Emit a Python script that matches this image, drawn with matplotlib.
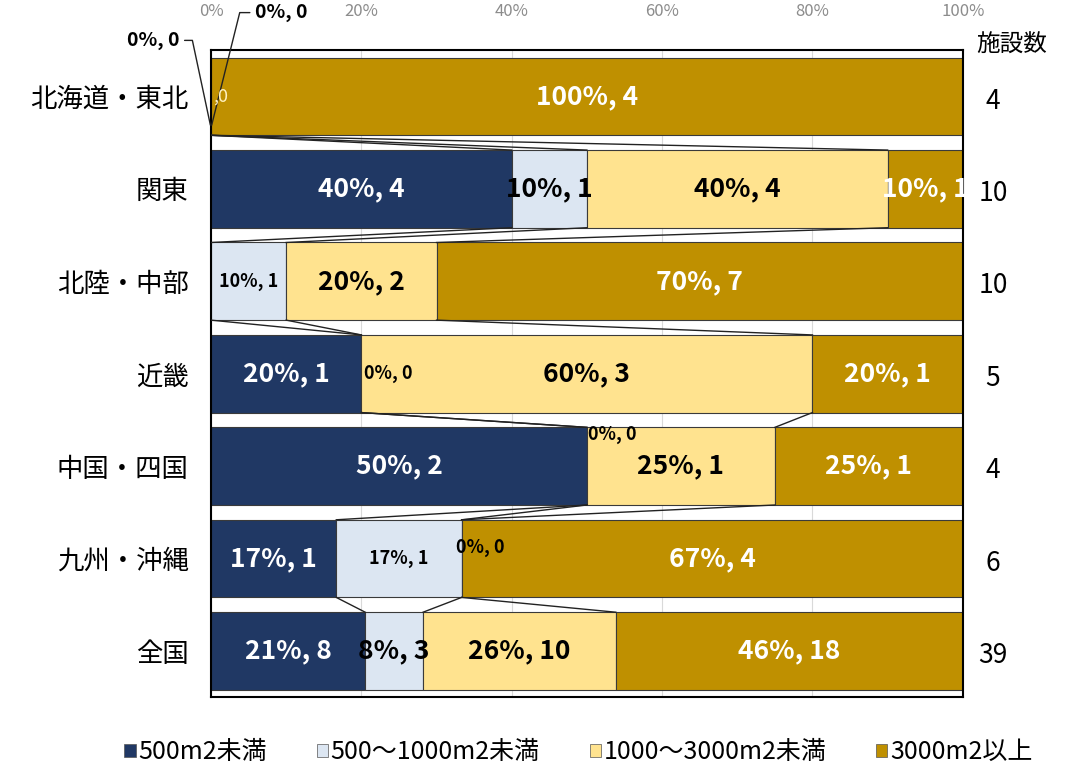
import matplotlib.pyplot as plt
from matplotlib.patches import Patch

plt.rcParams['font.family'] = ['Noto Sans CJK JP', 'DejaVu Sans']

regions = ["北海道・東北", "関東", "北陸・中部", "近畿", "中国・四国", "九州・沖縄", "全国"]
series_names = ["500m2未満", "500～1000m2未満", "1000～3000m2未満", "3000m2以上"]
counts = [
    [0, 0, 0, 4],
    [4, 1, 4, 1],
    [0, 1, 2, 7],
    [1, 0, 3, 1],
    [2, 0, 1, 1],
    [1, 1, 0, 4],
    [8, 3, 10, 18],
]
totals = [4, 10, 10, 5, 4, 6, 39]
colors = ["#203864", "#DCE6F2", "#FFE38F", "#BF9000"]
text_colors = ["white", "black", "black", "white"]
tick_labels = ["0%", "20%", "40%", "60%", "80%", "100%"]

BAR_H = 0.84
BIG = 19
SMALL = 14

fig = plt.figure(figsize=(10.71, 7.73), dpi=100)
ax = fig.add_axes([0.197, 0.098, 0.702, 0.837])

shares = [[c / t * 100 for c in row] for row, t in zip(counts, totals)]
cums = []
for i, row in enumerate(shares):
    left = 0
    cum = []
    for k, w in enumerate(row):
        ax.barh(i, w, left=left, height=BAR_H, color=colors[k],
                edgecolor="#3a3a3a", linewidth=0.8, zorder=2)
        left += w
        cum.append(left)
    cums.append(cum)

# series lines between neighbouring bars
for i in range(len(regions) - 1):
    for k in range(3):
        ax.plot([cums[i][k], cums[i + 1][k]], [i + BAR_H / 2, i + 1 - BAR_H / 2],
                color="#222222", lw=1.0, zorder=3)

# data labels
small = {(2, 1), (5, 1)}
for i, row in enumerate(shares):
    left = 0
    for k, w in enumerate(row):
        txt = f"{round(w)}%, {counts[i][k]}"
        if w > 0:
            size = SMALL - 1 if (i, k) in small else BIG
            ax.text(left + w / 2, i, txt, ha="center", va="center",
                    fontsize=size, color=text_colors[k], fontweight="bold", zorder=4)
        left += w

# zero-width labels
ax.text(cums[3][0] + 0.4, 3, "0%, 0", ha="left", va="center", fontsize=SMALL - 1,
        fontweight="bold", zorder=4)
ax.text(cums[4][0] + 0.1, 4 - BAR_H / 2 + 0.08, "0%, 0", ha="left", va="center",
        fontsize=SMALL - 1, fontweight="bold", zorder=4)
ax.text(cums[5][1] - 0.8, 5 - 0.12, "0%, 0", ha="left", va="center", fontsize=SMALL - 1,
        fontweight="bold", zorder=4)
ax.text(0.3, 0, ",0", ha="left", va="center", fontsize=SMALL - 1, color="#FFF2C0", zorder=4)
ax.annotate("0%, 0", xy=(0, 0.34), xytext=(-23, 63), textcoords="offset points",
            ha="right", va="center", fontsize=SMALL, fontweight="bold",
            arrowprops=dict(arrowstyle="-", color="#222222", lw=1.0,
                            connectionstyle="angle,angleA=0,angleB=102,rad=0"),
            annotation_clip=False)
ax.annotate("0%, 0", xy=(0, 0.34), xytext=(32, 83), textcoords="offset points",
            ha="left", va="center", fontsize=SMALL, fontweight="bold",
            arrowprops=dict(arrowstyle="-", color="#222222", lw=1.0,
                            connectionstyle="angle,angleA=0,angleB=76,rad=0"),
            annotation_clip=False)

ax.set_xlim(0, 100)
ax.set_ylim(len(regions) - 0.5, -0.5)
ax.set_yticks(range(len(regions)))
ax.set_yticklabels(regions, fontsize=19)
ax.xaxis.tick_top()
ax.set_xticks([0, 20, 40, 60, 80, 100])
ax.set_xticklabels(tick_labels, fontsize=12, color="#8c8c8c")
ax.tick_params(axis="both", length=0)
ax.tick_params(axis="y", pad=16)
ax.tick_params(axis="x", pad=22)
ax.grid(axis="x", color="#d9d9d9", lw=0.8, zorder=0)
ax.set_axisbelow(True)
for s in ax.spines.values():
    s.set_color("black")
    s.set_linewidth(1.5)

# facility counts
ax.text(1.065, -0.55, "施設数", transform=ax.get_yaxis_transform(), ha="center",
        va="center", fontsize=17)
for i, t in enumerate(totals):
    ax.text(1.04, i + 0.05, str(t), transform=ax.get_yaxis_transform(), ha="center",
            va="center", fontsize=19)

handles = [Patch(facecolor=c, edgecolor="#555555", lw=0.5) for c in colors]
fig.legend(handles, series_names, loc="center", bbox_to_anchor=(0.54, 0.027),
           ncol=4, frameon=False, fontsize=18, handlelength=0.45, handleheight=0.45,
           handletextpad=0.1, columnspacing=2.0)

fig.savefig("out.png", dpi=100)
